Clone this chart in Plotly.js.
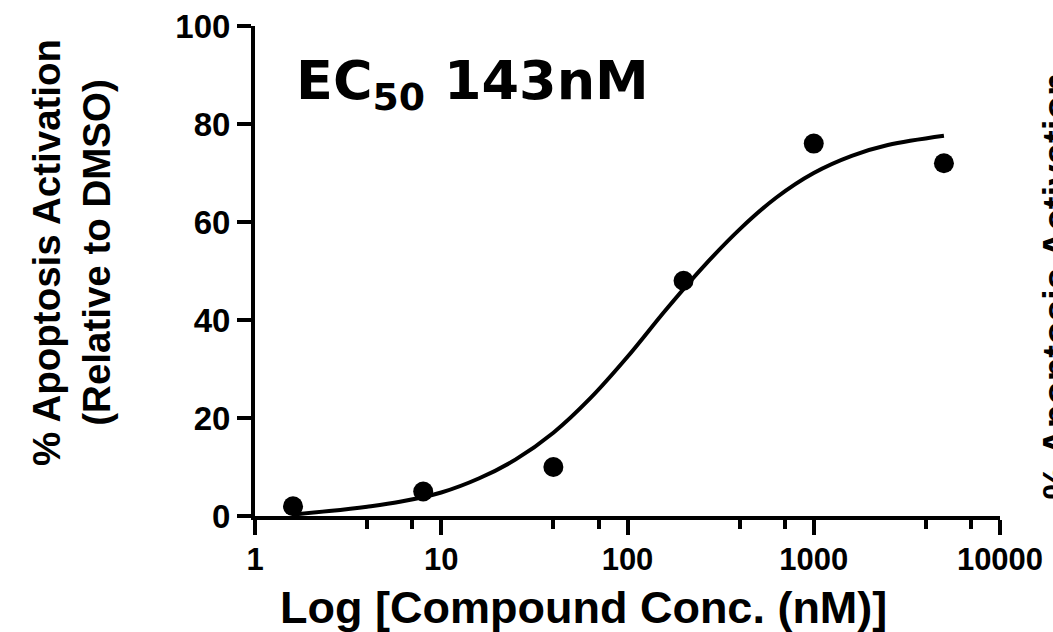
<!DOCTYPE html>
<html>
<head>
<meta charset="utf-8">
<script src="https://cdn.plot.ly/plotly-3.0.1.min.js"></script>
<style>html,body{margin:0;padding:0;background:#fff;}#chart{width:1053px;height:632px;}</style>
</head>
<body>
<div id="chart"></div>
<script>
// Measured data points
const concNM = [1.6, 8, 40, 200, 1000, 5000];
const apoptosisPct = [2, 5, 10, 48, 76, 72];

// Fitted curve
const fitConc = [1.6, 2.5, 4, 6, 10, 16, 25, 40, 63, 100, 160, 250, 400, 630, 1000, 1600, 2500, 5000];
const fitPct = [0.3, 1.0, 1.9, 2.9, 4.8, 7.7, 11.5, 17, 24, 32.5, 42, 50.5, 58.5, 65, 70, 73.5, 75.7, 77.6];

// Tick labels
const xTickVals = [1, 10, 100, 1000, 10000];
const xTickText = ['1', '10', '100', '1000', '10000'];
const xMinorVals = [4, 7, 40, 70, 400, 700, 4000, 7000];
const yTickVals = [0, 20, 40, 60, 80, 100];

const ec50Label = 'EC<sub>50</sub> 143nM';
const xTitle = 'Log [Compound Conc. (nM)]';
const yTitle = '% Apoptosis Activation<br>(Relative to DMSO)';
const rightCutText = '% Apoptosis Activation';

const F = 'Liberation Sans, Arial, sans-serif';

const traces = [
  {
    x: fitConc, y: fitPct, type: 'scatter', mode: 'lines',
    line: {color: '#000', width: 4, shape: 'spline'},
    cliponaxis: false, hoverinfo: 'skip', showlegend: false
  },
  {
    x: concNM, y: apoptosisPct, type: 'scatter', mode: 'markers',
    marker: {color: '#000', size: 20},
    cliponaxis: false, showlegend: false
  }
];

const layout = {
  width: 1053, height: 632,
  margin: {l: 255, r: 53, t: 26, b: 116},
  paper_bgcolor: '#fff', plot_bgcolor: '#fff',
  showlegend: false,
  xaxis: {
    type: 'log', range: [0, 4],
    showline: true, linecolor: '#000', linewidth: 4,
    showgrid: false, zeroline: false,
    ticks: 'outside', ticklen: 15, tickwidth: 4, tickcolor: '#000',
    tickmode: 'array', tickvals: xTickVals, ticktext: xTickText,
    tickfont: {family: F, size: 31, color: '#000', weight: 'bold'},
    ticklabelstandoff: -2,
    minor: {tickmode: 'array', tickvals: xMinorVals, ticks: 'outside', ticklen: 9, tickwidth: 4, tickcolor: '#000', showgrid: false}
  },
  yaxis: {
    range: [0, 100],
    showline: true, linecolor: '#000', linewidth: 4,
    showgrid: false, zeroline: false,
    ticks: 'outside', ticklen: 14, tickwidth: 4, tickcolor: '#000',
    tickmode: 'array', tickvals: yTickVals,
    tickfont: {family: F, size: 33, color: '#000', weight: 'bold'},
    ticklabelstandoff: 0
  },
  annotations: [
    {
      text: ec50Label, xref: 'paper', yref: 'paper',
      x: (294 - 255) / 745, y: 0.958, xanchor: 'left', yanchor: 'top', showarrow: false,
      font: {family: 'DejaVu Sans, sans-serif', size: 54, color: '#000', weight: 'bold'}
    },
    {
      text: xTitle, xref: 'paper', yref: 'paper',
      x: (583 - 255) / 745, y: -(607 - 516) / 490, xanchor: 'center', yanchor: 'middle', showarrow: false,
      font: {family: F, size: 45, color: '#000', weight: 'bold'}
    },
    {
      text: yTitle, xref: 'paper', yref: 'paper', textangle: -90,
      x: (71 - 255) / 745, y: (516 - 253) / 490, xanchor: 'center', yanchor: 'middle', showarrow: false,
      font: {family: F, size: 38.5, color: '#000', weight: 'bold'}
    },
    {
      text: rightCutText, xref: 'paper', yref: 'paper', textangle: -90,
      x: (1033 - 255) / 745, y: (516 - 286) / 490, xanchor: 'left', yanchor: 'middle', showarrow: false,
      font: {family: F, size: 38.5, color: '#000', weight: 'bold'}
    }
  ]
};

Plotly.newPlot('chart', traces, layout, {displayModeBar: false, staticPlot: true});
</script>
</body>
</html>
